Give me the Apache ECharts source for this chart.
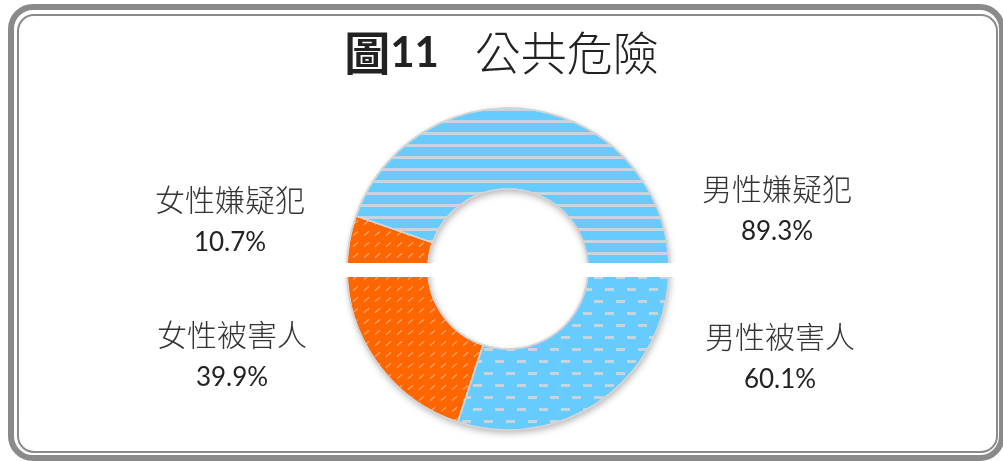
<!DOCTYPE html>
<html>
<head>
<meta charset="utf-8">
<script src="https://cdn.jsdelivr.net/npm/echarts@6/dist/echarts.min.js"></script>
<style>
  html, body { margin: 0; padding: 0; background: #fff; }
  #chart { width: 1003px; height: 461px; }
</style>
</head>
<body>
<div id="chart"></div>
<script>
// data
var suspectNames = ['女性嫌疑犯', '男性嫌疑犯'];
var suspectValues = [10.7, 89.3];
var victimNames = ['男性被害人', '女性被害人'];
var victimValues = [60.1, 39.9];

var titleChar = '圖';
var titleNum = '11';
var titleSub = '公共危險';

var BLUE = '#66CCFF';
var ORANGE = '#FF6600';

// where each label block sits (top centre), by name
var labelPos = {
	'女性嫌疑犯': [230, 178],
	'男性嫌疑犯': [777, 167],
	'女性被害人': [232, 313],
	'男性被害人': [780, 315]
};

var stripe = 'rgba(205,212,218,0.95)';
var dotty = 'rgba(245,190,150,0.8)';

var decals = {
	'男性嫌疑犯': {
		symbol: 'rect', symbolSize: 1, color: stripe,
		dashArrayX: [1, 0], dashArrayY: [2.5, 8.5]
	},
	'男性被害人': {
		symbol: 'rect', symbolSize: 1, color: stripe,
		dashArrayX: [[9, 13], [0, 11, 9, 2]], dashArrayY: [2.5, 8.5]
	},
	'女性嫌疑犯': {
		symbol: 'path://M0,5 L6,0 L7,1 L1,6 Z', symbolSize: 1, color: dotty,
		dashArrayX: [7, 4], dashArrayY: [5, 6]
	},
	'女性被害人': {
		symbol: 'path://M0,5 L6,0 L7,1 L1,6 Z', symbolSize: 1, color: dotty,
		dashArrayX: [7, 4], dashArrayY: [5, 6]
	}
};

var CENTER = [508, 269];
var RADIUS = [80, 161];

function colorOf(name) {
	return name.indexOf('男') === 0 ? BLUE : ORANGE;
}

/**
 * Builds one half ring. The other half is a transparent filler the same size.
 */
function makeHalf(names, values, startAngle) {
	var total = 0;
	var data = names.map(function(n, i) {
		total += values[i];
		return {
			name: n,
			value: values[i],
			itemStyle: {
				color: colorOf(n),
				decal: decals[n],
				borderColor: '#d4d4d4',
				borderWidth: 1.5
			}
		};
	});
	data.push({
		name: 'filler',
		value: total,
		itemStyle: { color: 'transparent', borderWidth: 0 },
		label: { show: false },
		emphasis: { disabled: true }
	});

	return {
		type: 'pie',
		z: 3,
		center: CENTER,
		radius: RADIUS,
		startAngle: startAngle,
		clockwise: true,
		avoidLabelOverlap: false,
		silent: true,
		data: data,
		labelLine: { show: false },
		label: {
			show: true,
			position: 'outside',
			formatter: function(p) {
				return '{name|' + p.name + '}\n{val|' + p.value.toFixed(1) + '%}';
			},
			rich: {
				name: {
					fontFamily: '"Noto Sans CJK TC", sans-serif',
					fontSize: 30, lineHeight: 44, color: '#333', fontWeight: 300
				},
				val: {
					fontFamily: 'Lato, "Open Sans", sans-serif',
					fontSize: 26, lineHeight: 42, color: '#222'
				}
			}
		},
		labelLayout: function(params) {
			var p = labelPos[names[params.dataIndex]];
			if (!p) {
				return {};
			}
			return { x: p[0], y: p[1], align: 'center', verticalAlign: 'top', moveOverlap: false };
		}
	};
}

var chart = echarts.init(document.getElementById('chart'), null, { renderer: 'canvas' });

var option = {
	animation: false,
	backgroundColor: '#fff',
	title: {
		text: '{a|' + titleChar + '}{n|' + titleNum + '}{gap|}{b|' + titleSub + '}',
		left: 'center',
		top: 25,
		textStyle: {
			rich: {
				a: { fontFamily: '"Noto Sans CJK TC", sans-serif', fontSize: 46, fontWeight: 'bold', color: '#222' },
				n: { fontFamily: 'Lato, sans-serif', fontSize: 42, fontWeight: 'bold', color: '#222' },
				gap: { width: 36 },
				b: { fontFamily: '"Noto Sans CJK TC", sans-serif', fontSize: 46, fontWeight: 300, color: '#222' }
			}
		}
	},
	graphic: [
		// outer thick frame
		{
			type: 'rect', z: 0, silent: true,
			shape: { x: 11, y: 7, width: 991, height: 451, r: 22 },
			style: { fill: 'none', stroke: '#8a8a8a', lineWidth: 6 }
		},
		// inner thin frame
		{
			type: 'rect', z: 0, silent: true,
			shape: { x: 18, y: 15, width: 979, height: 437, r: 16 },
			style: { fill: 'none', stroke: '#8a8a8a', lineWidth: 2 }
		},
		// white gap between the two halves
		{
			type: 'rect', z: 100, silent: true,
			shape: { x: 330, y: 263, width: 360, height: 14 },
			style: { fill: '#fff' }
		}
	],
	series: [
		// plain ring underneath, only there to cast the soft shadow
		{
			type: 'pie',
			z: 1,
			center: CENTER,
			radius: RADIUS,
			silent: true,
			label: { show: false },
			labelLine: { show: false },
			data: [{
				value: 1,
				itemStyle: {
					color: '#fff',
					shadowBlur: 7,
					shadowColor: 'rgba(0,0,0,0.3)',
					shadowOffsetX: 1,
					shadowOffsetY: 3
				}
			}]
		},
		makeHalf(suspectNames, suspectValues, 180),
		makeHalf(victimNames, victimValues, 0)
	]
};

chart.setOption(option);
</script>
</body>
</html>
